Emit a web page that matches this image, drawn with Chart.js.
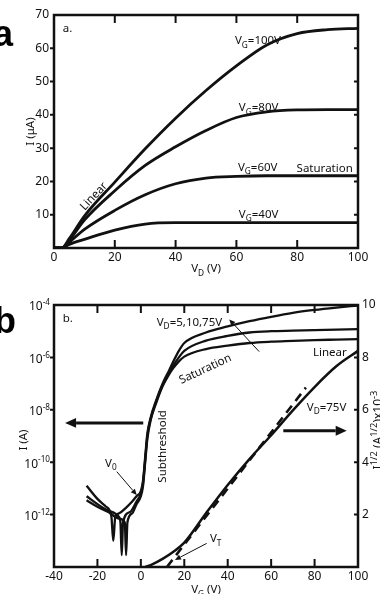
<!DOCTYPE html>
<html>
<head>
<meta charset="utf-8">
<script src="https://cdn.jsdelivr.net/npm/chart.js@4.4.1/dist/chart.umd.min.js"></script>
<style>
  html, body { margin: 0; padding: 0; background: #fff; }
  body { width: 380px; height: 594px; position: relative; overflow: hidden; }
  canvas { position: absolute; left: 0; }
  #cA { top: 0; }
  #cB { top: 290px; }
</style>
</head>
<body>
<canvas id="cA" width="380" height="290"></canvas>
<canvas id="cB" width="380" height="304"></canvas>
<script>
const FONT = '"Noto Sans", "DejaVu Sans", sans-serif';
const INK = '#111';

// ---- panel a: output curves, I (uA) vs VD (V)
const aVD    = [0, 2.5, 5, 10, 20, 30, 40, 50, 60, 70, 80, 90, 100];
const aVG100 = [0, 0, 2.8, 9.6, 19.8, 29.8, 39.0, 47.3, 54.7, 61.0, 64.4, 65.6, 66.0];
const aVG80  = [0, 0, 2.3, 8.4, 17.2, 24.8, 30.4, 35.3, 39.2, 40.9, 41.5, 41.6, 41.6];
const aVG60  = [0, 0, 1.7, 5.6, 11.3, 16.0, 19.3, 21.0, 21.5, 21.7, 21.7, 21.7, 21.7];
const aVG40  = [0, 0, 1.1, 2.6, 5.4, 7.2, 7.6, 7.6, 7.6, 7.6, 7.6, 7.6, 7.6];
const aXTicks = [0, 20, 40, 60, 80, 100];
const aYTicks = [10, 20, 30, 40, 50, 60, 70];

// ---- panel b: transfer curves, log10 I (A) vs VG (V)
const bVD75X = [-25, -20, -16, -13.6, -12.7, -11.8, -10, -7, -4, -2, 0, 1, 2, 3, 4.5, 7, 10, 13, 15, 17.5, 20, 30, 40, 50, 60, 70, 80, 90, 100];
const bVD75E = [-10.9, -11.4, -11.7, -12.05, -13.0, -12.1, -11.95, -11.75, -11.5, -11.3, -11.1, -10.7, -9.8, -8.9, -8.3, -7.65, -7.0, -6.5, -6.15, -5.75, -5.45, -5.05, -4.82, -4.62, -4.45, -4.3, -4.19, -4.1, -4.02];
const bVD10X = [-25, -20, -15, -10, -9.4, -8.8, -8.2, -5, -2, 0, 1, 2, 3, 4.5, 7, 10, 13, 15, 17.5, 20, 30, 40, 50, 60, 70, 80, 90, 100];
const bVD10E = [-11.3, -11.6, -11.85, -12.1, -12.3, -13.55, -12.3, -11.9, -11.5, -11.2, -10.8, -9.9, -9.0, -8.35, -7.7, -7.05, -6.6, -6.3, -6.0, -5.75, -5.36, -5.18, -5.05, -5.0, -4.98, -4.96, -4.94, -4.92];
const bVD5X  = [-25, -20, -15, -10, -7.4, -6.8, -6.2, -4, -2, 0, 1, 2, 3, 4.5, 7, 10, 13, 15, 17.5, 20, 30, 40, 50, 60, 70, 80, 90, 100];
const bVD5E  = [-11.45, -11.7, -11.9, -12.15, -12.3, -13.55, -12.3, -11.95, -11.6, -11.3, -10.9, -10.0, -9.1, -8.4, -7.75, -7.1, -6.65, -6.4, -6.15, -5.97, -5.68, -5.55, -5.45, -5.40, -5.37, -5.34, -5.32, -5.30];
// sqrt(I) x1e-3 at VD=75V, right axis
const bSqX = [2, 5, 10, 15, 20, 30, 40, 50, 60, 70, 80, 90, 100];
const bSqV = [0, 0.09, 0.31, 0.58, 0.93, 2.05, 3.13, 4.12, 5.03, 5.98, 6.87, 7.66, 8.25];
// linear fit giving VT
const bFitX = [12, 76];
const bFitV = [0, 6.85];
const bXTicks = [-40, -20, 0, 20, 40, 60, 80, 100];
const bLogTicks = [-4, -6, -8, -10, -12];
const bRightTicks = [2, 4, 6, 8, 10];

// rich text: V_{G} subscript, 10^{-4} superscript
function parseRich(str) {
  const out = [];
  const re = /([_^])\{([^}]*)\}/g;
  let last = 0, m;
  while ((m = re.exec(str))) {
    if (m.index > last) out.push({ t: str.slice(last, m.index), k: 0 });
    out.push({ t: m[2], k: m[1] === '_' ? -1 : 1 });
    last = re.lastIndex;
  }
  if (last < str.length) out.push({ t: str.slice(last), k: 0 });
  return out;
}

function richText(ctx, str, x, y, opt = {}) {
  const size = opt.size || 11.5;
  const small = size * (opt.small || 0.72);
  const segs = parseRich(str);
  ctx.save();
  ctx.translate(x, y);
  if (opt.rot) ctx.rotate(opt.rot * Math.PI / 180);
  ctx.fillStyle = opt.color || INK;
  ctx.textAlign = 'left';
  ctx.textBaseline = 'alphabetic';
  let w = 0;
  segs.forEach(s => {
    ctx.font = `${s.k ? small : size}px ${FONT}`;
    s.w = ctx.measureText(s.t).width;
    w += s.w;
  });
  let cx = opt.align === 'center' ? -w / 2 : opt.align === 'right' ? -w : 0;
  const mid = size * 0.36;
  segs.forEach(s => {
    ctx.font = `${s.k ? small : size}px ${FONT}`;
    const dy = s.k === -1 ? size * 0.3 : s.k === 1 ? -size * 0.42 : 0;
    ctx.fillText(s.t, cx, mid + dy);
    cx += s.w;
  });
  ctx.restore();
}

function arrow(ctx, x1, y1, x2, y2, lw, head) {
  const ang = Math.atan2(y2 - y1, x2 - x1);
  const bx = x2 - Math.cos(ang) * head, by = y2 - Math.sin(ang) * head;
  ctx.save();
  ctx.strokeStyle = INK;
  ctx.fillStyle = INK;
  ctx.lineWidth = lw;
  ctx.beginPath();
  ctx.moveTo(x1, y1);
  ctx.lineTo(bx, by);
  ctx.stroke();
  const hw = head * 0.45;
  ctx.beginPath();
  ctx.moveTo(x2, y2);
  ctx.lineTo(bx + Math.sin(ang) * hw, by - Math.cos(ang) * hw);
  ctx.lineTo(bx - Math.sin(ang) * hw, by + Math.cos(ang) * hw);
  ctx.closePath();
  ctx.fill();
  ctx.restore();
}

// box with inward top/bottom/right ticks and short outward left ticks
function drawFrame(ctx, a, xs, xTicks, ls, leftTicks, rs, rightTicks) {
  ctx.save();
  ctx.strokeStyle = INK;
  ctx.lineWidth = 2;
  ctx.beginPath();
  xTicks.forEach(v => {
    const px = xs.getPixelForValue(v);
    if (px < a.left + 3 || px > a.right - 3) return;
    ctx.moveTo(px, a.bottom); ctx.lineTo(px, a.bottom - 8);
    ctx.moveTo(px, a.top); ctx.lineTo(px, a.top + 8);
  });
  leftTicks.forEach(v => {
    const py = ls.getPixelForValue(v);
    if (py < a.top + 3 || py > a.bottom - 3) return;
    ctx.moveTo(a.left, py); ctx.lineTo(a.left - 4, py);
  });
  rightTicks.forEach(v => {
    const py = rs.getPixelForValue(v);
    if (py < a.top + 3 || py > a.bottom - 3) return;
    ctx.moveTo(a.right, py); ctx.lineTo(a.right - 4, py);
  });
  ctx.stroke();
  ctx.lineWidth = 2.5;
  ctx.strokeRect(a.left, a.top, a.right - a.left, a.bottom - a.top);
  ctx.restore();
}

const pts = (xs, ys, f = v => v) => xs.map((x, i) => ({ x, y: f(ys[i]) }));
const line = (data, extra = {}) => Object.assign({
  data, borderColor: INK, borderWidth: 2.8, pointRadius: 0,
  cubicInterpolationMode: 'monotone', fill: false
}, extra);
const tickFont = { family: FONT, size: 12 };
const noGrid = { display: false, drawTicks: false };

// ---------------- panel a
const panelA = {
  id: 'panelA',
  afterDraw(chart) {
    const { ctx, chartArea: a, scales: { x, y } } = chart;
    drawFrame(ctx, a, x, aXTicks, y, aYTicks, y, aYTicks);
    const at = (vx, vy) => [x.getPixelForValue(vx), y.getPixelForValue(vy)];
    richText(ctx, 'a.', ...at(2.9, 66), {});
    richText(ctx, 'V_{G}=100V', ...at(59.5, 62.5), {});
    richText(ctx, 'V_{G}=80V', ...at(60.8, 42.3), {});
    richText(ctx, 'V_{G}=60V', ...at(60.5, 24.4), {});
    richText(ctx, 'Saturation', ...at(79.8, 24.2), {});
    richText(ctx, 'V_{G}=40V', ...at(60.8, 10.3), {});
    richText(ctx, 'Linear', ...at(12.9, 15.7), { align: 'center', rot: -47 });
    // axis titles
    richText(ctx, 'I (\u03bcA)', 30, (a.top + a.bottom) / 2, { align: 'center', rot: -90, size: 11.5 });
    richText(ctx, 'V_{D} (V)', (a.left + a.right) / 2, 268, { align: 'center', size: 11.5 });
    ctx.save();
    ctx.fillStyle = '#000';
    ctx.font = 'bold 36px "Liberation Sans", Arial, sans-serif';
    ctx.fillText('a', -7, 46);
    ctx.restore();
  }
};

new Chart(document.getElementById('cA'), {
  type: 'line',
  data: {
    datasets: [
      line(pts(aVD, aVG100)),
      line(pts(aVD, aVG80)),
      line(pts(aVD, aVG60)),
      line(pts(aVD, aVG40)),
    ],
  },
  options: {
    responsive: false,
    animation: false,
    layout: { padding: { top: 15, right: 22, left: 0, bottom: 0 } },
    plugins: { legend: { display: false }, tooltip: { enabled: false } },
    scales: {
      x: {
        type: 'linear', min: 0, max: 100,
        afterBuildTicks: s => { s.ticks = aXTicks.map(value => ({ value })); },
        afterFit: s => { s.height = 42; },
        ticks: { font: tickFont, color: INK, padding: 2, maxRotation: 0, autoSkip: false },
        grid: noGrid, border: { display: false },
      },
      y: {
        type: 'linear', min: 0, max: 70,
        afterBuildTicks: s => { s.ticks = aYTicks.map(value => ({ value })); },
        afterFit: s => { s.width = 54; },
        ticks: { font: tickFont, color: INK, padding: 5, autoSkip: false },
        grid: noGrid, border: { display: false },
      },
    },
  },
  plugins: [panelA],
});

// ---------------- panel b
const panelB = {
  id: 'panelB',
  afterDraw(chart) {
    const { ctx, chartArea: a, scales: { x, y, y2 } } = chart;
    drawFrame(ctx, a, x, bXTicks, y, bLogTicks.map(e => 10 ** e), y2, bRightTicks);
    const atL = (vx, e) => [x.getPixelForValue(vx), y.getPixelForValue(10 ** e)];
    const atR = (vx, v) => [x.getPixelForValue(vx), y2.getPixelForValue(v)];
    // log tick labels
    bLogTicks.forEach(e => {
      richText(ctx, '10^{' + e + '}', a.left - 4, y.getPixelForValue(10 ** e) + 1, { align: 'right', size: 12, small: 0.68 });
    });
    richText(ctx, 'b.', ...atL(-36, -4.5), {});
    richText(ctx, 'V_{D}=5,10,75V', ...atL(7.3, -4.64), {});
    richText(ctx, 'Saturation', ...atL(29.5, -6.42), { align: 'center', rot: -25 });
    richText(ctx, 'Linear', ...atR(94.8, 8.22), { align: 'right' });
    richText(ctx, 'V_{D}=75V', ...atR(76.4, 6.12), {});
    richText(ctx, 'Subthreshold', ...atL(9.6, -9.4), { align: 'center', rot: -90 });
    richText(ctx, 'V_{0}', ...atL(-16.5, -10.02), {});
    richText(ctx, 'V_{T}', ...atR(31.8, 1.1), {});
    arrow(ctx, ...atL(1.1, -8.5), ...atL(-34.9, -8.5), 3, 11);
    arrow(ctx, ...atR(65.6, 5.2), ...atR(94.8, 5.2), 3, 11);
    arrow(ctx, ...atL(54.5, -5.78), ...atL(40.7, -4.55), 1, 6);
    arrow(ctx, ...atL(-11.1, -10.36), ...atL(-1.9, -11.25), 1, 6);
    arrow(ctx, ...atR(30.3, 0.9), ...atR(15.7, 0.27), 1, 6);
    // axis titles
    richText(ctx, 'I (A)', 22.5, (a.top + a.bottom) / 2 + 4, { align: 'center', rot: -90, size: 11.5 });
    richText(ctx, 'V_{G} (V)', (a.left + a.right) / 2, 299, { align: 'center', size: 11.5 });
    richText(ctx, 'I^{1/2} (A^{1/2})x10^{-3}', 378, 140, { align: 'center', rot: -90, size: 12, small: 0.78 });
    ctx.save();
    ctx.fillStyle = '#000';
    ctx.font = 'bold 36px "Liberation Sans", Arial, sans-serif';
    ctx.fillText('b', -6, 43);
    ctx.restore();
  }
};

new Chart(document.getElementById('cB'), {
  type: 'line',
  data: {
    datasets: [
      line(pts(bVD75X, bVD75E, e => 10 ** e), { yAxisID: 'y', borderWidth: 2.3 }),
      line(pts(bVD10X, bVD10E, e => 10 ** e), { yAxisID: 'y', borderWidth: 2.3 }),
      line(pts(bVD5X, bVD5E, e => 10 ** e), { yAxisID: 'y', borderWidth: 2.3 }),
      line(pts(bSqX, bSqV), { yAxisID: 'y2', borderWidth: 2.5 }),
      line(pts(bFitX, bFitV), { yAxisID: 'y2', borderWidth: 2.6, borderDash: [9, 6], cubicInterpolationMode: 'default', tension: 0 }),
    ],
  },
  options: {
    responsive: false,
    animation: false,
    layout: { padding: { top: 15, right: 0, left: 0, bottom: 0 } },
    plugins: { legend: { display: false }, tooltip: { enabled: false } },
    scales: {
      x: {
        type: 'linear', min: -40, max: 100,
        afterBuildTicks: s => { s.ticks = bXTicks.map(value => ({ value })); },
        afterFit: s => { s.height = 27; },
        ticks: { font: tickFont, color: INK, padding: 2, maxRotation: 0, autoSkip: false },
        grid: noGrid, border: { display: false },
      },
      y: {
        type: 'logarithmic', position: 'left', min: 1e-14, max: 1e-4,
        afterFit: s => { s.width = 54; },
        ticks: { display: false },
        grid: noGrid, border: { display: false },
      },
      y2: {
        type: 'linear', position: 'right', min: 0, max: 10,
        afterBuildTicks: s => { s.ticks = bRightTicks.map(value => ({ value })); },
        afterFit: s => { s.width = 22; },
        ticks: { font: tickFont, color: INK, padding: 4, autoSkip: false },
        grid: noGrid, border: { display: false },
      },
    },
  },
  plugins: [panelB],
});
</script>
</body>
</html>
